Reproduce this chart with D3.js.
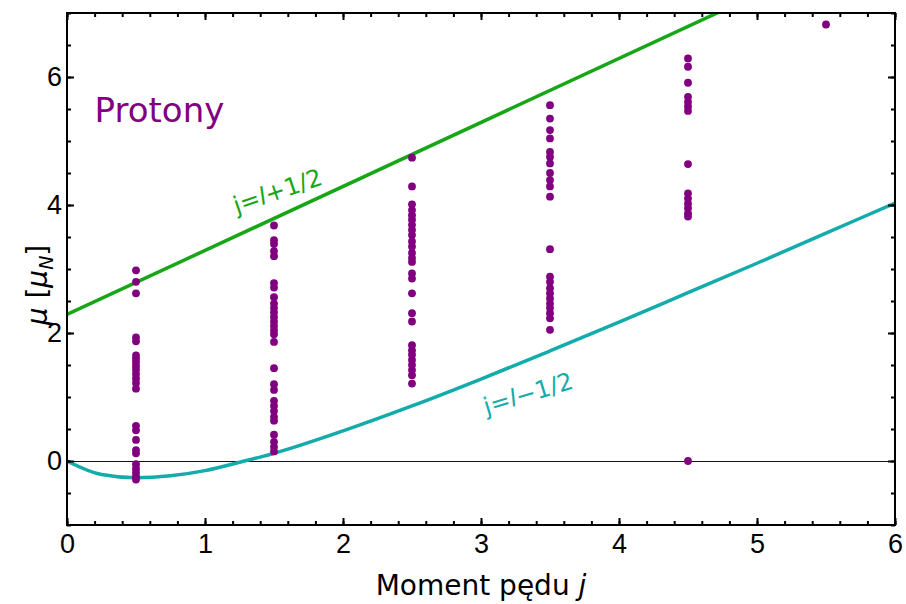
<!DOCTYPE html>
<html>
<head>
<meta charset="utf-8">
<script src="https://cdn.jsdelivr.net/npm/d3@7"></script>
<style>
    body { margin: 0; background: #fff; }
    svg { font-family: 'DejaVu Sans', Verdana, sans-serif; }
</style>
</head>
<body>
<svg width="906" height="604"></svg>
<script>
// measured magnetic moments (protons), grouped by j
var jValues = [0.5, 1.5, 2.5, 3.5, 4.5, 5.5];
var mu05 = [2.98, 2.80, 2.62, 1.93, 1.87, 1.65, 1.60, 1.55, 1.49, 1.43, 1.36, 1.29, 1.22, 1.13,
    0.55, 0.48, 0.33, 0.17, 0.12, -0.05, -0.12, -0.18, -0.24, -0.29];
var mu15 = [3.68, 3.45, 3.39, 3.28, 3.20, 2.78, 2.71, 2.56, 2.46, 2.39, 2.32, 2.25, 2.18, 2.11,
    2.04, 1.98, 1.86, 1.45, 1.20, 1.11, 0.94, 0.86, 0.78, 0.69, 0.63, 0.41, 0.30, 0.22, 0.15];
var mu25 = [4.74, 4.29, 4.01, 3.92, 3.84, 3.77, 3.69, 3.61, 3.53, 3.43, 3.35, 3.25, 3.17, 3.11,
    2.93, 2.85, 2.62, 2.31, 2.18, 1.81, 1.73, 1.66, 1.58, 1.50, 1.42, 1.34, 1.21];
var mu35 = [5.56, 5.35, 5.17, 5.04, 4.83, 4.75, 4.65, 4.50, 4.39, 4.29, 4.13, 3.31,
    2.88, 2.80, 2.70, 2.62, 2.54, 2.46, 2.39, 2.31, 2.23, 2.05];
var mu45 = [6.29, 6.16, 5.91, 5.69, 5.61, 5.54, 5.47, 4.64, 4.18, 4.10, 4.02, 3.95, 3.87, 3.82, 0.0];
var mu55 = [6.82];

// Schmidt lines
var upperJ = [0, 6];
var upperMu = [2.29, 8.29];
var lowerJ = [0, 0.25, 0.5, 0.75, 1, 1.25, 1.5, 2, 2.5, 3, 3.5, 4, 4.5, 5, 5.5, 6];
var lowerMu = [0, -0.21, -0.26, -0.23, -0.15, -0.02, 0.12, 0.47, 0.86, 1.28, 1.72, 2.17, 2.63, 3.09, 3.56, 4.03];

var xMajor = [0, 1, 2, 3, 4, 5, 6];
var yMajor = [0, 2, 4, 6];

function drawChart() {
    var svg = d3.select('svg');
    var margin = {top: 13, right: 11, bottom: 79, left: 67};
    var width = +svg.attr('width') - margin.left - margin.right;
    var height = +svg.attr('height') - margin.top - margin.bottom;

    var g = svg.append('g')
        .attr('transform', 'translate(' + margin.left + ',' + margin.top + ')');

    var xScale = d3.scaleLinear().domain([0, 6]).range([0, width]);
    var yScale = d3.scaleLinear().domain([-1, 7]).range([height, 0]);

    g.append('clipPath').attr('id', 'plot-clip')
        .append('rect').attr('width', width).attr('height', height);

    // zero line
    g.append('line')
        .attr('x1', 0).attr('x2', width)
        .attr('y1', yScale(0) + 0.5).attr('y2', yScale(0) + 0.5)
        .attr('stroke', '#111').attr('stroke-width', 1);

    var line = d3.line()
        .x(function(d) { return xScale(d[0]); })
        .y(function(d) { return yScale(d[1]); });

    g.append('path')
        .datum(d3.zip(upperJ, upperMu))
        .attr('clip-path', 'url(#plot-clip)')
        .attr('d', line)
        .attr('fill', 'none')
        .attr('stroke', '#16a616')
        .attr('stroke-width', 3.5);

    g.append('path')
        .datum(d3.zip(lowerJ, lowerMu))
        .attr('clip-path', 'url(#plot-clip)')
        .attr('d', line.curve(d3.curveMonotoneX))
        .attr('fill', 'none')
        .attr('stroke', '#14abab')
        .attr('stroke-width', 3.5);

    // points
    var groups = [mu05, mu15, mu25, mu35, mu45, mu55];
    var points = [];
    groups.forEach(function(arr, i) {
        arr.forEach(function(m) { points.push([jValues[i], m]); });
    });

    g.append('g').selectAll('circle')
        .data(points)
        .enter().append('circle')
        .attr('cx', function(d) { return xScale(d[0]); })
        .attr('cy', function(d) { return yScale(d[1]); })
        .attr('r', 3.9)
        .attr('fill', '#800080');

    // axes with inward ticks
    var fs = '27px';
    var xAxis = g.append('g')
        .attr('transform', 'translate(0,' + height + ')')
        .call(d3.axisBottom(xScale).tickValues(xMajor).tickSize(-7).tickPadding(9)
            .tickFormat(d3.format('d')));
    xAxis.selectAll('text').attr('font-size', fs).attr('fill', '#000').attr('font-family', null);
    g.append('g')
        .attr('transform', 'translate(0,' + height + ')')
        .call(d3.axisBottom(xScale).tickValues(d3.range(0, 6.01, 0.2)).tickSize(-4).tickFormat(''));
    g.append('g')
        .call(d3.axisTop(xScale).tickValues(xMajor).tickSize(-7).tickFormat(''));
    g.append('g')
        .call(d3.axisTop(xScale).tickValues(d3.range(0, 6.01, 0.2)).tickSize(-4).tickFormat(''));

    var yAxis = g.append('g')
        .call(d3.axisLeft(yScale).tickValues(yMajor).tickSize(-7).tickPadding(5)
            .tickFormat(d3.format('d')));
    yAxis.selectAll('text').attr('font-size', fs).attr('fill', '#000').attr('font-family', null);
    g.append('g')
        .call(d3.axisLeft(yScale).tickValues(d3.range(-1, 7.01, 0.5)).tickSize(-4).tickFormat(''));
    g.append('g')
        .attr('transform', 'translate(' + width + ',0)')
        .call(d3.axisRight(yScale).tickValues(yMajor).tickSize(-7).tickFormat(''));
    g.append('g')
        .attr('transform', 'translate(' + width + ',0)')
        .call(d3.axisRight(yScale).tickValues(d3.range(-1, 7.01, 0.5)).tickSize(-4).tickFormat(''));

    g.selectAll('.domain').remove();
    g.selectAll('.tick line').attr('stroke', '#000').attr('stroke-width', 2);

    g.append('rect')
        .attr('width', width).attr('height', height)
        .attr('fill', 'none').attr('stroke', '#000').attr('stroke-width', 2);

    // labels
    g.append('text')
        .attr('x', xScale(0.2)).attr('y', yScale(5.3))
        .attr('font-size', '34px')
        .attr('fill', '#800080')
        .text('Protony');

    var up = g.append('text')
        .attr('transform', 'translate(' + xScale(1.23) + ',' + yScale(3.86) + ') rotate(-19)')
        .attr('font-size', '24px')
        .attr('fill', '#16a616');
    up.append('tspan').text('j=');
    up.append('tspan').attr('font-style', 'italic').text('l');
    up.append('tspan').text('+1/2');

    var low = g.append('text')
        .attr('transform', 'translate(' + xScale(3.04) + ',' + yScale(0.72) + ') rotate(-17)')
        .attr('font-size', '24px')
        .attr('fill', '#14abab');
    low.append('tspan').text('j=');
    low.append('tspan').attr('font-style', 'italic').text('l');
    low.append('tspan').text('\u22121/2');

    svg.append('text')
        .attr('x', margin.left + width / 2)
        .attr('y', 595)
        .attr('text-anchor', 'middle')
        .attr('font-size', '28px')
        .call(function(t) {
            t.append('tspan').text('Moment pędu ');
            t.append('tspan').attr('font-style', 'italic').text('j');
        });

    var yl = svg.append('text')
        .attr('transform', 'translate(47,' + (margin.top + yScale(2.75)) + ') rotate(-90)')
        .attr('text-anchor', 'middle')
        .attr('font-size', '28px');
    yl.append('tspan').attr('font-style', 'italic').text('\u03bc');
    yl.append('tspan').text(' [');
    yl.append('tspan').attr('font-style', 'italic').text('\u03bc');
    yl.append('tspan').attr('font-style', 'italic').attr('font-size', '19px').attr('dy', 6).text('N');
    yl.append('tspan').attr('dy', -6).text(']');
}

drawChart();
</script>
</body>
</html>
